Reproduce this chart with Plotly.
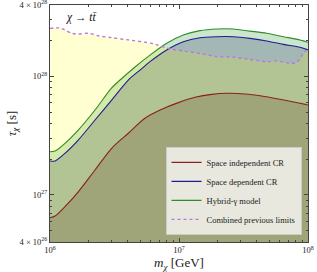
import numpy as np
import plotly.graph_objects as go

# masses in GeV (log10) for each curve
red_logm = [6.000, 6.039, 6.116, 6.219, 6.349, 6.478, 6.607, 6.736, 6.866, 6.995, 7.124, 7.253, 7.382, 7.512, 7.641, 7.770, 7.899, 8.000]
red_tau = [6.41e26, 6.62e26, 7.94e26, 1.06e27, 1.62e27, 2.47e27, 3.31e27, 4.43e27, 5.27e27, 6.0e27, 6.65e27, 7.05e27, 7.19e27, 7.10e27, 6.82e27, 6.44e27, 6.04e27, 5.73e27]

green_logm = [6.000, 6.039, 6.116, 6.219, 6.349, 6.478, 6.543, 6.659, 6.775, 6.905, 7.033, 7.163, 7.292, 7.421, 7.550, 7.680, 7.809, 7.938, 8.000]
green_tau = [2.31e27, 2.34e27, 2.72e27, 3.52e27, 5.20e27, 7.98e27, 9.31e27, 1.20e28, 1.51e28, 1.90e28, 2.23e28, 2.43e28, 2.51e28, 2.51e28, 2.41e28, 2.31e28, 2.16e28, 2.03e28, 1.94e28]

blue_logm = [6.000, 6.039, 6.116, 6.219, 6.349, 6.478, 6.607, 6.698, 6.775, 6.905, 7.033, 7.163, 7.292, 7.421, 7.550, 7.680, 7.809, 7.938, 8.000]
blue_tau = [1.93e27, 1.93e27, 2.24e27, 2.90e27, 4.28e27, 6.31e27, 9.31e27, 1.13e28, 1.33e28, 1.67e28, 1.96e28, 2.12e28, 2.16e28, 2.16e28, 2.09e28, 1.99e28, 1.86e28, 1.76e28, 1.67e28]

prev_logm = [6.000, 6.078, 6.116, 6.168, 6.219, 6.297, 6.374, 6.478, 6.607, 6.736, 6.814, 6.905, 7.033, 7.163, 7.292, 7.421, 7.550, 7.680, 7.757, 7.860, 7.912, 7.964, 8.000]
prev_tau = [2.54e28, 2.56e28, 2.46e28, 2.31e28, 2.28e28, 2.31e28, 2.20e28, 2.12e28, 2.03e28, 1.94e28, 1.87e28, 1.73e28, 1.64e28, 1.56e28, 1.47e28, 1.45e28, 1.39e28, 1.33e28, 1.35e28, 1.29e28, 1.31e28, 1.56e28, 1.73e28]

legend_names = ["Space independent CR", "Space dependent CR", "Hybrid-γ model", "Combined previous limits"]

x_tickvals = [1e6, 1e7, 1e8]
x_ticktext = ["10<sup>6</sup>", "10<sup>7</sup>", "10<sup>8</sup>"]
y_tickvals = [4e26, 1e27, 1e28, 4e28]
y_ticktext = ["4 × 10<sup>26</sup>", "10<sup>27</sup>", "10<sup>28</sup>", "4 × 10<sup>28</sup>"]

BASE = 1e26
SERIF = "Liberation Serif, DejaVu Serif, serif"

def area(logm, tau, fillcolor):
    m = [10.0 ** v for v in logm]
    xs = m + m[::-1]
    ys = list(tau) + [BASE] * len(m)
    return go.Scatter(x=xs, y=ys, fill="toself", fillcolor=fillcolor, mode="lines",
                      line=dict(width=0, shape="spline", smoothing=0.8),
                      showlegend=False, hoverinfo="skip")

fig = go.Figure()
fig.add_trace(area(green_logm, green_tau, "rgba(0,128,0,0.2)"))
fig.add_trace(area(blue_logm, blue_tau, "rgba(0,0,90,0.2)"))
fig.add_trace(area(prev_logm, prev_tau, "rgba(255,255,0,0.18)"))
fig.add_trace(area(red_logm, red_tau, "rgba(80,20,0,0.18)"))

line_specs = [
    (red_logm, red_tau, "#8b1f1f", "solid", 1.1),
    (blue_logm, blue_tau, "#1c1c96", "solid", 1.1),
    (green_logm, green_tau, "#2e8b2e", "solid", 1.1),
    (prev_logm, prev_tau, "#b875e8", "dot", 1.4),
]
for (lm, tv, col, dash, w), name in zip(line_specs, legend_names):
    fig.add_trace(go.Scatter(x=[10.0 ** v for v in lm], y=tv, mode="lines", name=name,
                             line=dict(color=col, dash=dash, width=w, shape="spline", smoothing=0.8)))

axis_common = dict(showline=True, linecolor="#444", linewidth=1, mirror="allticks",
                   ticks="inside", ticklen=4, tickcolor="#444", showgrid=False, zeroline=False,
                   automargin=False, ticklabeloverflow="allow",
                   tickfont=dict(family=SERIF, size=8.5, color="#222"))

minor_x = [float(k) * 10.0 ** e for e in (6, 7) for k in range(2, 10)]
minor_y = [float(k) * 10.0 ** e for e, ks in ((26, range(5, 10)), (27, range(2, 10)), (28, range(2, 4))) for k in ks]

fig.update_xaxes(type="log", range=[6, 8], tickvals=x_tickvals, ticktext=x_ticktext,
                 minor=dict(tickvals=minor_x, ticks="inside", ticklen=2, tickcolor="#444"),
                 title=dict(text="<i>m</i><sub><i>χ</i></sub> [GeV]", font=dict(family=SERIF, size=13, color="#222"), standoff=1),
                 **axis_common)
fig.update_yaxes(type="log", range=[float(np.log10(4e26)), float(np.log10(4e28))], tickvals=y_tickvals, ticktext=y_ticktext,
                 minor=dict(tickvals=minor_y, ticks="inside", ticklen=2, tickcolor="#444"),
                 title=dict(text="<i>τ</i><sub><i>χ</i></sub> [s]", font=dict(family=SERIF, size=13, color="#222"), standoff=0),
                 **axis_common)

fig.add_annotation(x=0.055, y=0.985, xref="paper", yref="paper", xanchor="left", yanchor="top",
                   text="<i>χ</i> → <i>t</i><i>t̄</i>", showarrow=False,
                   font=dict(family=SERIF, size=11.5, color="#111"))

fig.update_layout(
    width=317, height=272,
    margin=dict(l=50, r=9, t=5, b=30),
    paper_bgcolor="white", plot_bgcolor="white",
    legend=dict(x=0.975, y=0.03, xanchor="right", yanchor="bottom",
                bgcolor="rgba(236,236,228,0.95)", bordercolor="#cccccc", borderwidth=1,
                font=dict(family=SERIF, size=8.5, color="#222"), tracegroupgap=0, itemwidth=30),
)

fig.write_html("out.html", config={"displayModeBar": False, "staticPlot": True},
               post_script="document.body.style.margin='0';document.body.style.padding='0';")
